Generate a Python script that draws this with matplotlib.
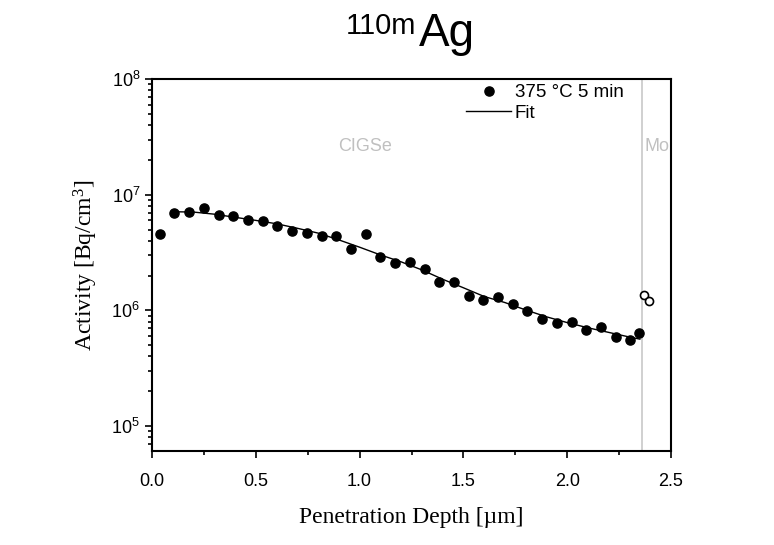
import matplotlib
matplotlib.use("Agg")
import matplotlib.pyplot as plt
from matplotlib.ticker import FixedLocator, LogLocator, NullFormatter, MultipleLocator

# ---------------- data ----------------
depth = [0.037, 0.108, 0.179, 0.250, 0.321, 0.392, 0.463, 0.533, 0.604, 0.675,
         0.746, 0.817, 0.888, 0.958, 1.029, 1.100, 1.171, 1.242, 1.313, 1.383,
         1.454, 1.525, 1.596, 1.667, 1.738, 1.808, 1.879, 1.950, 2.021, 2.092,
         2.163, 2.233, 2.304, 2.348]
activity = [4.62e6, 6.94e6, 7.08e6, 7.75e6, 6.71e6, 6.50e6, 6.08e6, 5.88e6, 5.36e6, 4.85e6,
            4.69e6, 4.39e6, 4.39e6, 3.39e6, 4.60e6, 2.89e6, 2.56e6, 2.62e6, 2.26e6, 1.75e6,
            1.76e6, 1.32e6, 1.22e6, 1.30e6, 1.13e6, 9.87e5, 8.36e5, 7.82e5, 7.87e5, 6.81e5,
            7.22e5, 5.88e5, 5.57e5, 6.37e5]
mo_depth = [2.372, 2.394]
mo_activity = [1.36e6, 1.20e6]

fit_depth = [0.10, 0.20, 0.30, 0.40, 0.50, 0.60, 0.70, 0.80, 0.90, 1.00, 1.10, 1.20,
             1.30, 1.40, 1.50, 1.60, 1.70, 1.80, 1.90, 2.00, 2.10, 2.20, 2.30, 2.35]
fit_activity = [7.13e6, 7.08e6, 6.79e6, 6.38e6, 6.00e6, 5.61e6, 5.13e6, 4.66e6, 4.07e6, 3.52e6,
                3.02e6, 2.63e6, 2.24e6, 1.86e6, 1.57e6, 1.32e6, 1.17e6, 1.01e6, 8.81e5, 7.85e5,
                7.08e5, 6.46e5, 5.89e5, 5.65e5]

boundary = 2.36
x_ticks = [0.0, 0.5, 1.0, 1.5, 2.0, 2.5]
x_tick_labels = ['0.0', '0.5', '1.0', '1.5', '2.0', '2.5']
y_ticks = [1e5, 1e6, 1e7, 1e8]
y_tick_labels = [r'$\mathregular{10^{5}}$', r'$\mathregular{10^{6}}$',
                 r'$\mathregular{10^{7}}$', r'$\mathregular{10^{8}}$']

# ---------------- figure ----------------
plt.rcParams['font.family'] = ['Liberation Sans', 'DejaVu Sans']
plt.rcParams['mathtext.default'] = 'regular'

fig = plt.figure(figsize=(7.74, 5.45), dpi=100)
ax = fig.add_axes([152/774, 1-451/545, (671-152)/774, (451-79)/545])

ax.set_yscale('log')
ax.set_xlim(0, 2.5)
ax.set_ylim(6.1e4, 1e8)

ax.axvline(boundary, color='#c8c8c8', lw=1.2, zorder=1)

ax.plot(depth, activity, 'o', color='black', ms=6.6, ls='none', label='375 °C 5 min', zorder=3)
ax.plot(mo_depth, mo_activity, 'o', mfc='white', mec='black', mew=1.2, ms=5.8, ls='none', zorder=3)
ax.plot(fit_depth, fit_activity, '-', color='black', lw=1.0, label='Fit', zorder=2)

ax.text(1.024, 2.6e7, 'CIGSe', color='#c0c0c0', fontsize=13, ha='center', va='center')
ax.text(boundary + 0.012, 2.6e7, 'Mo', color='#c0c0c0', fontsize=13, ha='left', va='center',
        clip_on=True)

# ticks
ax.xaxis.set_major_locator(FixedLocator(x_ticks))
ax.xaxis.set_minor_locator(MultipleLocator(0.25))
ax.set_xticklabels(x_tick_labels)
ax.yaxis.set_major_locator(FixedLocator(y_ticks))
ax.set_yticklabels(y_tick_labels)
ax.yaxis.set_minor_locator(LogLocator(base=10, subs=range(2, 10), numticks=20))
ax.yaxis.set_minor_formatter(NullFormatter())
ax.tick_params(which='both', direction='out', top=False, right=False, labelsize=13, width=1.2)
ax.tick_params(which='major', length=5)
ax.tick_params(which='minor', length=3)
ax.tick_params(axis='x', which='major', pad=11)
for s in ax.spines.values():
    s.set_linewidth(1.5)

ax.set_xlabel('Penetration Depth [µm]', family=['Liberation Serif'], fontsize=17, labelpad=12)
ax.set_ylabel(r'Activity [Bq/cm$^{3}$]', family=['Liberation Serif'], fontsize=17, labelpad=8)

leg = ax.legend(loc='upper left', bbox_to_anchor=((466-152)/519, 1-(84-79)/372),
                frameon=False, fontsize=13.5, handlelength=2.4, handletextpad=0.2,
                labelspacing=0.2, borderpad=0, borderaxespad=0)

# title
fig.text(416/774, 1-34/545, '110m', fontsize=21, ha='right', va='baseline')
fig.text(419/774, 1-46/545, 'Ag', fontsize=33, ha='left', va='baseline')

fig.savefig('out.png', dpi=100)
